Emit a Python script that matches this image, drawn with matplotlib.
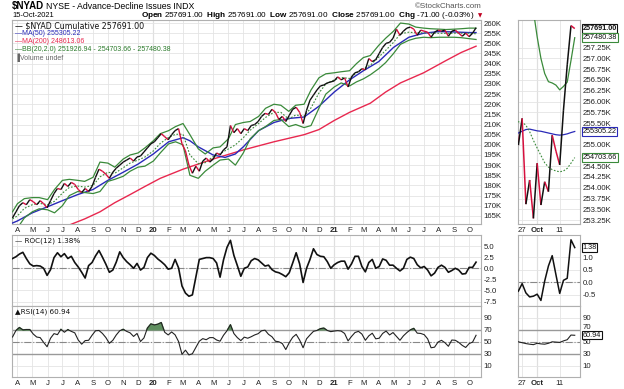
import pandas as pd
import matplotlib
matplotlib.use('Agg')
import matplotlib.pyplot as plt
import matplotlib.dates as mdates
from matplotlib.collections import LineCollection

plt.rcParams['font.family'] = ['Liberation Sans', 'DejaVu Sans']
plt.rcParams['mathtext.fontset'] = 'custom'
plt.rcParams['mathtext.rm'] = 'Liberation Sans'
plt.rcParams['mathtext.bf'] = 'Liberation Sans:bold'

# ---- main chart data (weekly, K) ----
week_dates = pd.date_range('2019-03-22', '2021-10-15', freq='W-FRI')
nyad_close = [
    164.0, 167.0,
    170.0, 171.5, 170.5, 173.0,
    172.0, 170.5, 172.5, 171.0, 169.0,
    172.5, 176.0, 178.5, 178.0,
    181.0, 179.5, 181.5, 180.5,
    178.0, 176.5, 178.5, 177.0, 179.5,
    184.0, 188.0, 187.0, 185.5,
    183.5, 186.5, 188.5, 190.0,
    191.5, 192.5, 193.5, 192.0, 194.0,
    194.5, 196.5, 198.5, 200.5,
    201.5, 203.5, 205.5, 204.0, 202.5,
    205.0, 207.0, 208.0, 200.5,
    197.0, 190.0, 186.0, 189.5,
    187.0, 192.0, 193.5, 191.5,
    193.0, 196.0, 195.0, 197.5, 199.0,
    209.5, 206.0, 208.0, 205.5,
    208.0, 207.0, 209.5, 210.0, 211.5,
    214.0, 215.5, 215.0, 217.5,
    216.0, 212.5, 214.0, 211.5,
    214.5, 217.5, 218.5, 216.0, 210.5,
    217.0, 222.0, 224.5, 227.0,
    229.0, 229.5, 230.5, 231.0,
    231.5, 233.5, 232.0, 233.0, 228.5,
    233.5, 235.5, 236.0, 237.5,
    237.0, 242.5, 241.0, 242.0,
    245.0, 248.0, 250.0, 250.5, 252.5,
    257.0, 254.0, 256.0, 257.5,
    258.0, 257.0, 254.0, 256.5,
    256.0, 255.5, 253.0, 255.5, 256.5,
    256.0, 256.5, 253.5, 256.0,
    256.5, 255.0, 253.5, 255.0,
    253.3, 255.0, 257.7,
]

roc12 = [
    2.2, 2.6, 3.2, 3.6, 2.2, 1.0, 0.5, 0.6, 0.5, 0.0,
    -1.6, -0.3, 2.4, 3.5, 2.6, 3.3, 2.2, 2.7, 1.3, 0.3,
    -0.9, -2.2, 0.6, 1.3, 2.8, 4.0, 2.5, 0.9, -0.9, -0.4,
    1.4, 3.7, 2.4, 1.5, 0.8, 0.0, 1.1, -0.4, 0.2, 2.4,
    3.4, 2.9, 2.1, 1.5, 0.8, -0.2, 0.0, 2.0, 0.1, -4.0,
    -5.6, -6.3, -6.0, -2.0, 2.0, 2.2, 2.4, 2.4, 2.2, 1.2,
    -2.0, 1.9, 4.7, 6.3, 2.9, 0.6, -1.8, 0.0, 0.3, 1.7,
    2.2, 1.9, 1.2, 0.5, 0.7, -0.3, -0.8, -1.0, -1.4, -1.9,
    -1.0, 1.2, 3.5, 1.0, -3.2, 0.0, 2.0, 4.4, 3.1, 2.7,
    2.6, 1.5, 0.0, 0.8, 1.3, 1.6, 1.6, -0.2, 1.0, 2.7,
    2.7, 0.4, -0.8, 1.3, 2.0, 0.0, 0.4, 2.1, 1.8, 0.7,
    0.7, 0.0, -0.6, 0.0, 2.0, 2.5, 2.2, 0.8, 0.1, 0.4,
    -0.4, -1.7, -1.1, 0.2, 0.7, 0.2, -0.9, -0.5, 0.0, -0.4,
    -1.3, -1.2, 0.2, 0.2, 1.38,
]

rsi14 = [
    58, 69, 74, 70, 70.5, 70.5, 63, 58, 57, 49,
    41.7, 56, 63.7, 62, 71, 66, 70.5, 67.5, 65, 53,
    46, 52, 52.5, 61, 68.5, 69, 64, 57, 47.5, 52.5,
    61.5, 68.5, 71, 67.5, 65, 59, 64, 50.5, 56.5, 73,
    80, 78.2, 79.5, 82.3, 66, 61.5, 66.5, 61.7, 50.5, 29,
    36, 28, 30, 40.5, 51, 55.3, 53.5, 57, 57, 53,
    51, 61, 68.5, 78.7, 63.8, 57, 52, 57.8, 56, 58.5,
    61.5, 63.6, 68.5, 69.5, 62.5, 58.5, 51, 50, 47, 37,
    48.5, 57.6, 62.5, 53, 40, 55, 61.5, 67.5, 69, 72,
    73, 69, 67, 68, 68.7, 68, 64, 51.5, 59, 65.5,
    67.5, 63, 52.5, 60, 64.4, 55, 56, 64, 68, 61.5,
    65.5, 59, 52.5, 60, 65.5, 70, 72.5, 64.5, 64, 62,
    55, 40, 41, 49.5, 52.5, 48.5, 42.5, 53, 52.5, 49,
    44, 40.5, 47, 49.5, 60.94,
]

# Bollinger bands (20, 2.0), read twice a month
bb_dates = pd.DatetimeIndex(['2019-03-22']).append(
    pd.date_range('2019-04-01', '2021-10-15', freq='SMS'))
bb_upper = [
    167, 171, 173.5, 174, 174, 173, 178, 182.5, 183, 182.5, 182, 184, 191.5, 191, 189, 193, 195, 196, 198.5,
    202, 205.5, 207, 209, 210.5, 205, 198, 195.5, 198.5, 199, 203, 210, 211, 211.5, 214, 218, 220,
    219.5, 216.5, 219.5, 220, 227, 233, 235,
    235.5, 236, 236.5, 240, 243, 244, 249, 252.5, 256, 260, 259.5, 258, 257.5, 257.2, 257, 256.8,
    257, 257.2, 257.5, 257.5,
]
bb_mid = [
    163.5, 165, 168.7, 170.5, 171.2, 170.5, 172.2, 176.2, 179, 179.7, 179.2, 180, 184.2, 186.5, 186,
    188.7, 191, 192.5, 194,
    197, 200.7, 203.7, 205.2, 205.2, 195, 190.7, 191.2, 194.2, 195.7, 198, 200, 203.5, 207.2, 210.5,
    213.5, 216, 216, 212.7, 214.7, 214.2, 218.2, 225.5, 230,
    232, 233.2, 232.7, 235.5, 237.7, 239.2, 243.2, 246.5, 250.5, 254.7, 255.5, 255.2, 255.2, 255, 255,
    254.9, 255, 255, 255, 254.7,
]
bb_lower = [
    160, 159, 164, 167, 168.5, 168, 166.5, 170, 175, 177, 176.5, 176, 177, 182, 183, 184.5, 187, 189, 189.5,
    192, 196, 200.5, 201.5, 200, 185, 183.5, 187, 190, 192.5, 193, 190, 196, 203, 207, 209, 212,
    212.5, 209, 210, 208.5, 209.5, 218, 225,
    228.5, 230.5, 229, 231, 232.5, 234.5, 237.5, 240.5, 245, 249.5, 251.5, 252.5, 253, 252.8, 253, 253,
    253, 252.8, 252.3, 251.9,
]

ma50_dates = pd.to_datetime([
    '2019-03-22', '2019-04-01', '2019-05-01', '2019-06-01', '2019-07-01', '2019-08-01', '2019-09-01',
    '2019-10-01', '2019-11-01', '2019-12-01', '2020-01-01', '2020-02-01', '2020-03-01', '2020-03-15',
    '2020-04-01', '2020-05-01', '2020-05-25', '2020-06-15', '2020-07-01', '2020-08-01', '2020-09-01',
    '2020-10-01', '2020-11-01', '2020-12-01', '2021-01-01', '2021-02-01', '2021-03-01', '2021-04-01',
    '2021-05-01', '2021-06-01', '2021-07-01', '2021-08-01', '2021-09-01', '2021-10-01', '2021-10-15'])
ma50 = [161.5, 162.5, 166.5, 169.5, 172.5, 175.5, 178, 182.5, 186.5, 190.5, 195.5, 201.5, 203.5, 202,
        199, 195, 193.8, 195.5, 199, 207, 211, 213, 213.7, 219, 226, 232, 236.5, 241, 248, 253, 255,
        255.8, 255.6, 255.3, 255.3]

ma200_dates = pd.to_datetime([
    '2019-07-18', '2019-08-15', '2019-09-15', '2019-10-15', '2019-11-15', '2019-12-15', '2020-01-15',
    '2020-03-01', '2020-05-01', '2020-07-01', '2020-09-01', '2020-11-01', '2020-12-01', '2021-01-01',
    '2021-02-01', '2021-03-15', '2021-04-15', '2021-05-15', '2021-07-01', '2021-08-15', '2021-09-15',
    '2021-10-15'])
ma200 = [160.8, 163.5, 167, 171.5, 175.5, 179.5, 183.5, 188, 193, 197.5, 201.5, 205, 207.5, 212, 216,
         220.5, 226, 230.5, 235.5, 241.5, 245.5, 248.6]

# ---- inset: last trading days (daily) ----
inset_days = ['Sep 23', 'Sep 24', 'Sep 27', 'Sep 28', 'Sep 29', 'Sep 30', 'Oct 1', 'Oct 4', 'Oct 5',
              'Oct 6', 'Oct 7', 'Oct 8', 'Oct 11', 'Oct 12', 'Oct 13', 'Oct 14', 'Oct 15']
inset_close = [255.9, 254.99, 255.61, 253.62, 254.18, 253.29, 254.57, 253.60, 254.14, 253.91, 255.22,
               254.85, 254.53, 255.80, 256.85, 257.76, 257.691]
inset_ma50 = [255.24, 255.27, 255.31, 255.35, 255.36, 255.34, 255.32, 255.31, 255.29, 255.27, 255.25,
              255.23, 255.22, 255.23, 255.25, 255.28, 255.305]
inset_bb_upper = [260.2, 259.9, 259.5, 259.1, 258.6, 258.1, 257.5, 257.0, 256.65, 256.46, 256.43,
                  256.38, 256.27, 256.35, 256.45, 256.95, 257.48]
inset_bb_mid = [255.5, 255.53, 255.52, 255.45, 255.3, 255.1, 254.92, 254.75, 254.58, 254.48, 254.42,
                254.39, 254.37, 254.39, 254.45, 254.57, 254.70]
inset_roc = [-0.45, -0.35, -0.05, -0.42, -0.58, -0.55, -0.47, -0.72, 0.05, 0.65, 1.06, 0.3, -0.44,
             0.08, 0.16, 1.69, 1.38]
inset_rsi = [51, 50, 48.5, 47, 46, 45.2, 47.5, 46.5, 46, 47.5, 50, 49.5, 49, 51.5, 53.5, 61.3, 60.94]

price_ticks = list(range(165, 261, 5))
roc_ticks = [5.0, 2.5, 0.0, -2.5, -5.0, -7.5]
rsi_ticks = [90, 70, 50, 30, 10]
# labels hidden behind the value tags are left out
inset_price_ticks = [253.25, 253.5, 253.75, 254.0, 254.25, 254.5, 255.0, 255.5,
                     255.75, 256.0, 256.25, 256.5, 256.75, 257.0, 257.25]
inset_roc_ticks = [1.0, 0.5, 0.0, -0.5]
inset_rsi_ticks = [90, 50, 30, 10]

UP, DOWN = '#111111', '#d6103e'
BLUE, RED, GREEN = '#2a2ab8', '#e8284f', '#3a8a3a'
GRID, FRAME = '#e4e4e4', '#b0b0b0'
W, H = 624, 389


def box(l, t, r, b):
    return [l / W, 1 - b / H, (r - l) / W, (b - t) / H]


def style(ax):
    for s in ax.spines.values():
        s.set_color(FRAME)
        s.set_linewidth(0.8)
    ax.tick_params(length=0, labelsize=5.6, colors='#222222', pad=2)
    ax.yaxis.tick_right()
    ax.grid(True, color=GRID, lw=0.6)
    ax.set_axisbelow(True)


def colored_line(ax, x, y, lw=1.0):
    segs = [[(x[i], y[i]), (x[i + 1], y[i + 1])] for i in range(len(y) - 1)]
    cols = [UP if y[i + 1] >= y[i] else DOWN for i in range(len(y) - 1)]
    ax.add_collection(LineCollection(segs, colors=cols, linewidths=lw, zorder=5))


fig = plt.figure(figsize=(W / 100, H / 100), dpi=100)

ax_p = fig.add_axes(box(12, 20, 481, 224))
ax_r = fig.add_axes(box(12, 235, 481, 306))
ax_s = fig.add_axes(box(12, 306, 481, 377))
in_p = fig.add_axes(box(518, 20, 580, 224))
in_r = fig.add_axes(box(518, 235, 580, 306))
in_s = fig.add_axes(box(518, 306, 580, 377))

xw = mdates.date2num(week_dates)
x0, x1 = mdates.datestr2num('2019-03-21'), mdates.datestr2num('2021-10-25')
months = pd.date_range('2019-04-01', '2021-10-01', freq='MS')
mlabels = [str(m.year)[2:] if m.month == 1 else m.strftime('%b')[0] for m in months]
years = [m for m in months if m.month == 1]

for ax in (ax_p, ax_r, ax_s):
    style(ax)
    ax.set_xlim(x0, x1)
    ax.set_xticks(mdates.date2num(months))
    ax.set_xticklabels(mlabels)
    for lab, m in zip(ax.get_xticklabels(), months):
        if m.month == 1:
            lab.set_fontweight('bold')
    for yd in years:
        ax.axvline(mdates.date2num(yd), color='#c8c8c8', lw=0.8, zorder=0)
ax_r.tick_params(labelbottom=False)

# price panel
ax_p.set_ylim(161, 261.5)
ax_p.set_yticks(price_ticks)
ax_p.set_yticklabels([f'{v}K' for v in price_ticks])
ax_p.plot(ma200_dates, ma200, color=RED, lw=1.0, zorder=3)
ax_p.plot(ma50_dates, ma50, color=BLUE, lw=1.0, zorder=3)
ax_p.plot(bb_dates, bb_upper, color=GREEN, lw=0.9, zorder=3)
ax_p.plot(bb_dates, bb_lower, color=GREEN, lw=0.9, zorder=3)
ax_p.plot(bb_dates, bb_mid, color=GREEN, lw=0.8, ls=(0, (1.5, 1.5)), zorder=3)
colored_line(ax_p, xw, nyad_close, lw=1.0)

leg = [('\u2014 \\$NYAD Cumulative 257691.00', '#111111', 'DejaVu Sans', 5.7),
       ('\u2014MA(50) 255305.22', BLUE, None, 5.0),
       ('\u2014MA(200) 248613.06', RED, None, 5.0),
       ('\u2014BB(20,2.0) 251926.94 - 254703.66 - 257480.38', '#2a7a2a', None, 5.0),
       ('\u2590Volume undef', '#666666', None, 5.0)]
for i, (t, c, fam, fs) in enumerate(leg):
    kw = {'family': [fam, 'Liberation Sans']} if fam else {}
    ax_p.text(3 / 469, 1 - (5.7 + 8 * i) / 204, t, transform=ax_p.transAxes, fontsize=fs,
              color=c, va='center', ha='left', **kw)

# ROC panel
ax_r.set_ylim(-8.5, 7.5)
ax_r.set_yticks(roc_ticks)
ax_r.set_yticklabels([f'{v:.1f}' for v in roc_ticks])
ax_r.axhline(0, color='#888888', lw=0.8, ls='-.', zorder=2)
ax_r.plot(week_dates, roc12, color='#111111', lw=1.2, zorder=4)
ax_r.text(3 / 469, 1 - 5.7 / 71, '\u2014 ROC(12) 1.38%', transform=ax_r.transAxes, fontsize=5.2,
          va='center', color='#111111', family=['DejaVu Sans'])

# RSI panel
ax_s.set_ylim(-9, 110)
ax_s.set_yticks(rsi_ticks)
ax_s.axhline(70, color='#999999', lw=1.0, zorder=2)
ax_s.axhline(30, color='#999999', lw=1.0, zorder=2)
ax_s.axhline(50, color='#888888', lw=0.8, ls='-.', zorder=2)
ax_s.fill_between(week_dates, rsi14, 70, where=[v > 70 for v in rsi14], interpolate=True,
                  color='#5f8f5f', zorder=3)
ax_s.plot(week_dates, rsi14, color='#222222', lw=0.8, zorder=4)
ax_s.text(3 / 469, 1 - 5.7 / 71, '\u25b2RSI(14) 60.94', transform=ax_s.transAxes, fontsize=5.2,
          va='center', color='#111111', family=['DejaVu Sans'])

# ---- inset panels ----
xi = list(range(-1, len(inset_days) - 1))
tick_days = ['Sep 27', 'Oct 1', 'Oct 11']
tick_pos = [xi[inset_days.index(d)] for d in tick_days]
for ax in (in_p, in_r, in_s):
    style(ax)
    ax.set_xlim(-0.1, 16.4)
    ax.set_xticks(tick_pos)
    ax.set_xticklabels(['27', 'Oct', '11'])
    ax.get_xticklabels()[1].set_fontweight('bold')
    ax.axvline(tick_pos[1], color='#c8c8c8', lw=0.8, zorder=0)
in_r.tick_params(labelbottom=False)

in_p.set_ylim(253.16, 257.89)
in_p.set_yticks(inset_price_ticks)
in_p.set_yticklabels([f'{v:.2f}K' for v in inset_price_ticks])
in_p.plot(xi, inset_ma50, color=BLUE, lw=0.9, zorder=3)
in_p.plot(xi, inset_bb_upper, color=GREEN, lw=0.9, zorder=3)
in_p.plot(xi, inset_bb_mid, color=GREEN, lw=0.8, ls=(0, (1.5, 1.5)), zorder=3)
colored_line(in_p, xi, inset_close, lw=1.1)

in_r.set_ylim(-0.94, 1.88)
in_r.set_yticks(inset_roc_ticks)
in_r.set_yticklabels([f'{v:.1f}' for v in inset_roc_ticks])
in_r.axhline(0, color='#888888', lw=0.8, ls='-.', zorder=2)
in_r.plot(xi, inset_roc, color='#111111', lw=1.1, zorder=4)

in_s.set_ylim(-9, 110)
in_s.set_yticks(inset_rsi_ticks)
in_s.axhline(70, color='#999999', lw=1.0, zorder=2)
in_s.axhline(30, color='#999999', lw=1.0, zorder=2)
in_s.axhline(50, color='#888888', lw=0.8, ls='-.', zorder=2)
in_s.plot(xi, inset_rsi, color='#222222', lw=0.8, zorder=4)
# the "70" label sits just above the RSI value tag
in_s.annotate('70', xy=(1.0, 70), xycoords=('axes fraction', 'data'), xytext=(2, 2),
              textcoords='offset points', fontsize=5.6, color='#222222', va='center', ha='left',
              annotation_clip=False)


def tag(ax, val, text, ec, bold=False):
    ax.annotate(text, xy=(1.0, val), xycoords=('axes fraction', 'data'), xytext=(1.8, 0),
                textcoords='offset points', va='center', ha='left', fontsize=5.2,
                fontweight='bold' if bold else 'normal', color='#111111',
                bbox=dict(boxstyle='square,pad=0.1', fc='white', ec=ec, lw=0.8),
                annotation_clip=False, zorder=10)


tag(in_p, inset_close[-1], '257691.00', '#111111', bold=True)
tag(in_p, inset_bb_upper[-1], '257480.38', GREEN)
tag(in_p, inset_ma50[-1], '255305.22', BLUE)
tag(in_p, inset_bb_mid[-1], '254703.66', GREEN)
tag(in_r, inset_roc[-1], '1.38', '#111111')
tag(in_s, inset_rsi[-1], '60.94', '#111111')

# ---- header ----
fig.text(12 / W, 1 - 6.5 / H, '\\$NYAD', fontsize=7.0, fontweight='bold', va='center', ha='left')
fig.text(46 / W, 1 - 6.5 / H, 'NYSE - Advance-Decline Issues INDX', fontsize=6.3, va='center',
         ha='left')
fig.text(12 / W, 1 - 15.7 / H, '15-Oct-2021', fontsize=5.4, va='center', ha='left')
fig.text(474 / W, 1 - 15.7 / H,
         r'$\bf{Open}$ 257691.00  $\bf{High}$ 257691.00  $\bf{Low}$ 257691.00  '
         r'$\bf{Close}$ 257691.00  $\bf{Chg}$ -71.00 (-0.03%)',
         fontsize=5.9, va='center', ha='right')
fig.text(478 / W, 1 - 15.7 / H, '\u25bc', fontsize=4, color='#c00020', va='center', ha='left',
         family=['DejaVu Sans'])
fig.text(448 / W, 1 - 6.7 / H, '\u00a9StockCharts.com', fontsize=5.8, color='#555555',
         va='center', ha='center')

fig.savefig('out.png', dpi=100)
